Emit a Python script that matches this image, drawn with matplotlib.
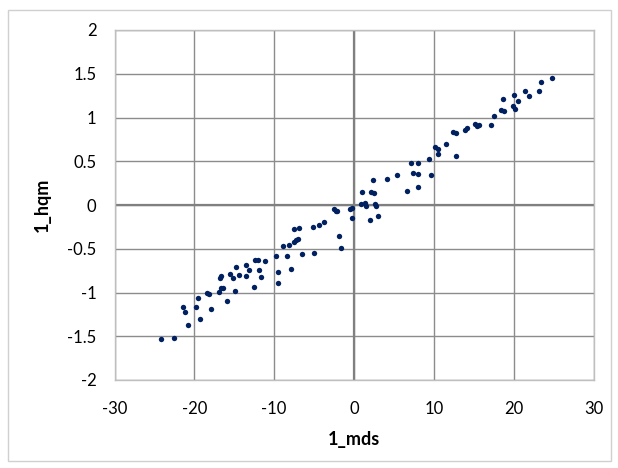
import matplotlib
matplotlib.use('Agg')
import matplotlib.pyplot as plt
from matplotlib.patches import Rectangle

plt.rcParams['font.family'] = ['Lato', 'DejaVu Sans']

# 1_mds vs 1_hqm values
mds = [-24.22, -22.52, -20.84, -21.47, -21.18, -19.30, -19.80, -19.51, -17.88, -18.46,
       -18.13, -16.92, -16.70, -16.45, -15.88, -16.79, -16.70, -15.50, -15.13, -14.75,
       -14.45, -14.87, -13.53, -13.12, -13.53, -12.49, -12.37, -11.99, -11.94, -11.65,
       -11.15, -9.77, -9.49, -9.56, -8.93, -8.36, -8.11, -7.89, -7.52, -7.27,
       -6.98, -6.52, -4.97, -7.56, -6.85, -5.14, -4.39, -3.76, -1.92, -1.63,
       -2.51, -2.26, -2.09, -0.54, -0.21, -0.21, 0.84, 1.34, 1.50, 2.67,
       2.76, 2.01, 3.05, 0.98, 2.13, 2.51, 6.60, 2.34, 4.10, 5.43,
       7.11, 7.36, 8.02, 8.02, 7.98, 9.36, 9.61, 10.09, 10.46, 10.50,
       11.53, 12.76, 12.37, 12.72, 13.95, 14.10, 15.19, 15.41, 15.63, 17.21,
       17.51, 18.46, 18.83, 18.71, 19.89, 20.18, 20.05, 20.51, 21.47, 21.87,
       23.16, 23.47, 24.84]
hqm = [-1.528, -1.523, -1.368, -1.169, -1.219, -1.299, -1.169, -1.066, -1.192, -1.002,
       -1.017, -0.994, -0.952, -0.945, -1.101, -0.834, -0.815, -0.785, -0.838, -0.712,
       -0.797, -0.983, -0.682, -0.743, -0.808, -0.937, -0.629, -0.625, -0.739, -0.826,
       -0.637, -0.583, -0.762, -0.895, -0.465, -0.586, -0.461, -0.735, -0.419, -0.400,
       -0.392, -0.557, -0.552, -0.274, -0.259, -0.251, -0.225, -0.198, -0.351, -0.488,
       -0.049, -0.065, -0.065, -0.046, -0.038, -0.149, 0.006, 0.026, -0.006, 0.011,
       -0.011, -0.177, -0.122, 0.154, 0.149, 0.137, 0.162, 0.288, 0.294, 0.346,
       0.483, 0.368, 0.477, 0.358, 0.209, 0.522, 0.343, 0.659, 0.640, 0.581,
       0.697, 0.563, 0.837, 0.819, 0.854, 0.877, 0.928, 0.905, 0.911, 0.912,
       1.017, 1.088, 1.077, 1.208, 1.128, 1.094, 1.261, 1.192, 1.299, 1.246,
       1.299, 1.402, 1.457]

xticks = [-30, -20, -10, 0, 10, 20, 30]
yticks = [-2, -1.5, -1, -0.5, 0, 0.5, 1, 1.5, 2]

fig = plt.figure(figsize=(6.18, 4.68), dpi=100)
ax = fig.add_axes([114.5 / 618, 1 - 380 / 468, 479 / 618, 350 / 468])

# chart area border
fig.patches.append(Rectangle((8 / 618, 1 - 461 / 468), 603 / 618, 451 / 468,
                             transform=fig.transFigure, fill=False,
                             edgecolor='#d0d0d0', linewidth=1))

ax.set_xlim(-30, 30)
ax.set_ylim(-2, 2)
ax.set_xticks(xticks)
ax.set_yticks(yticks)
ax.set_xticklabels([str(t) for t in xticks])
ax.set_yticklabels(['%g' % t for t in yticks])
ax.grid(True, color='#8c8c8c', linewidth=1.0)
ax.set_axisbelow(True)
ax.axhline(0, color='#808080', linewidth=1.6, zorder=1)
ax.axvline(0, color='#808080', linewidth=1.6, zorder=1)
for s in ax.spines.values():
    s.set_color('#bfbfbf')
    s.set_linewidth(1)
ax.tick_params(axis='x', length=0, labelsize=12, pad=15, colors='black')
ax.tick_params(axis='y', length=0, labelsize=12, pad=13, colors='black')

ax.scatter(mds, hqm, s=15, color='#002060', zorder=3, linewidths=0)

ax.set_xlabel('1_mds', fontsize=13, fontweight='bold', labelpad=10)
ax.set_ylabel('1_hqm', fontsize=13, fontweight='bold', labelpad=12)

fig.savefig('out.png', dpi=100)
